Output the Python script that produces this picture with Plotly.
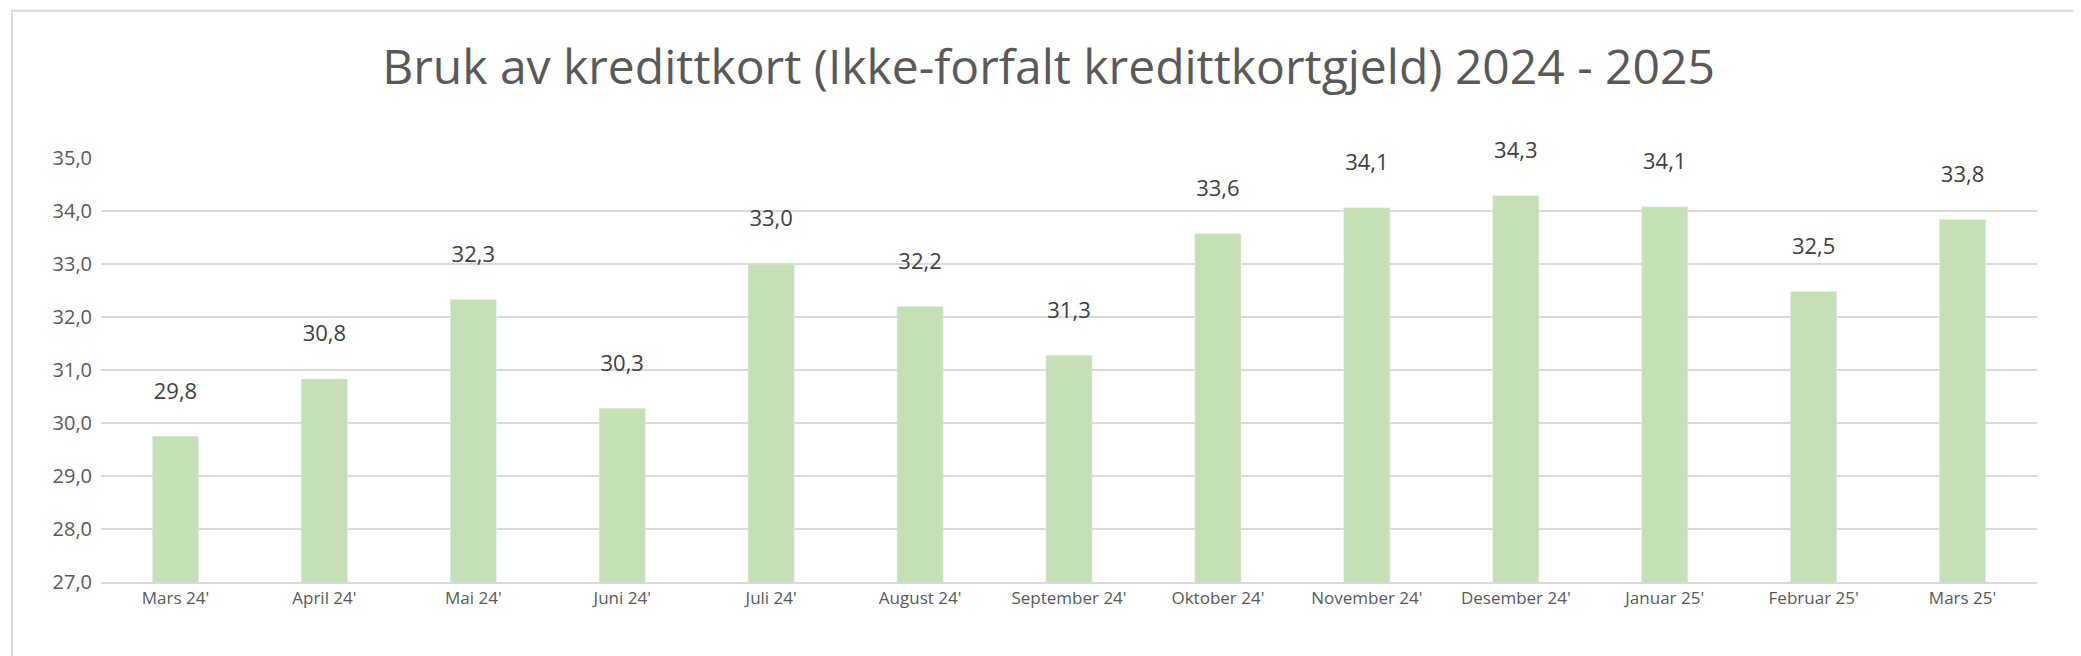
import plotly.graph_objects as go

months = ["Mars 24'", "April 24'", "Mai 24'", "Juni 24'", "Juli 24'", "August 24'",
          "September 24'", "Oktober 24'", "November 24'", "Desember 24'",
          "Januar 25'", "Februar 25'", "Mars 25'"]
values = [29.75, 30.83, 32.33, 30.28, 33.0, 32.2, 31.28, 33.57, 34.06, 34.29, 34.08, 32.48, 33.84]
labels = [f"{v:.1f}".replace(".", ",") + "<br> " for v in values]
y_ticks = [27, 28, 29, 30, 31, 32, 33, 34, 35]
y_tick_text = [f"{t:.1f}".replace(".", ",") for t in y_ticks]

fig = go.Figure(go.Bar(
    x=months, y=values, base=0,
    marker_color="#C5E0B4", width=0.31,
    text=labels, textposition="outside", cliponaxis=False,
    textfont=dict(size=22, color="#404040"),
))

fig.update_layout(
    width=2081, height=656,
    paper_bgcolor="white", plot_bgcolor="white",
    font=dict(family="Open Sans, Liberation Sans, sans-serif", color="#595959"),
    title=dict(text="Bruk av kredittkort (Ikke-forfalt kredittkortgjeld) 2024 - 2025",
               x=0.5, xanchor="center", y=0.91, yanchor="middle",
               font=dict(size=48, color="#595959")),
    margin=dict(l=93, r=52, t=150, b=82),
    showlegend=False,
    bargap=0.69,
)
fig.update_yaxes(range=[27, 35], tickvals=y_ticks, ticktext=y_tick_text,
                 showgrid=True, gridcolor="#D9D9D9", gridwidth=1.5,
                 zeroline=False, tickfont=dict(size=20, color="#595959"),
                 ticks="", ticklabelstandoff=8)
fig.update_xaxes(showline=True, linecolor="#D9D9D9", linewidth=1.5,
                 tickfont=dict(size=17, color="#595959"), ticks="")
fig.add_shape(type="rect", xref="paper", yref="paper", x0=-0.046, x1=1.025,
              y0=-0.186, y1=1.347, line=dict(color="#D9D9D9", width=2))
fig.write_html("out.html")
